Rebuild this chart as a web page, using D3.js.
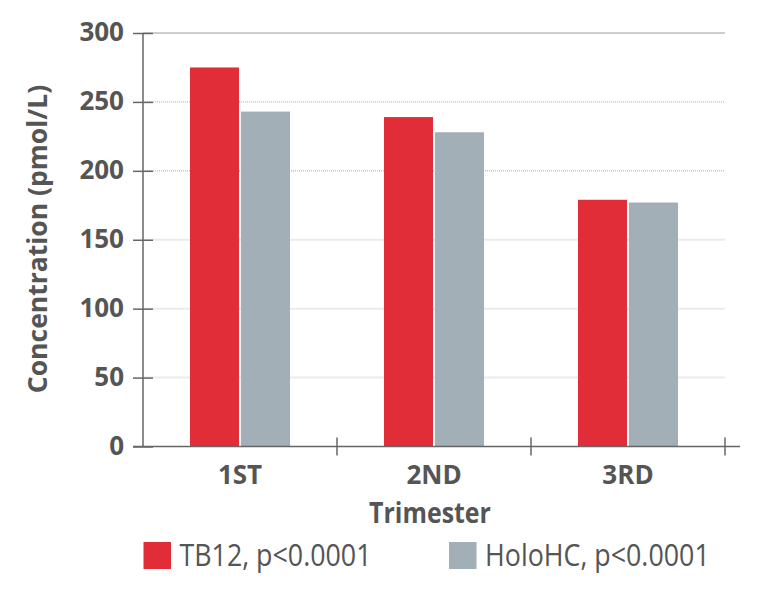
<!DOCTYPE html>
<html><head><meta charset="utf-8">
<script src="https://cdn.jsdelivr.net/npm/d3@7"></script>
<style>body{margin:0;background:#fff;} svg{display:block;font-family:"Open Sans",sans-serif;}</style>
</head><body>
<svg id="chart" width="768" height="592"></svg>
<script>
const categories = ["1ST", "2ND", "3RD"];
const seriesNames = ["TB12, p<0.0001", "HoloHC, p<0.0001"];
const tb12 = [275, 239, 179];
const holohc = [243, 228, 177];
const yTicks = [0, 50, 100, 150, 200, 250, 300];
const colors = ["#e12d38", "#a2afb7"];

const svg = d3.select("#chart");
const x0 = 143, x1 = 725, yTop = 33, yBot = 446.5;
const x = d3.scaleBand().domain(categories).range([x0, x1]).paddingInner(0).paddingOuter(0);
const y = d3.scaleLinear().domain([0, 300]).range([yBot, yTop]);
const inner = d3.scaleBand().domain([0,1]).range([0, 100]).paddingInner(0.04);

// gridlines
const grid = svg.append("g");
yTicks.filter(t => t > 0).forEach(t => {
  const g = grid.append("line").attr("x1", x0).attr("x2", 725).attr("y1", y(t)).attr("y2", y(t));
  if (t === 300) g.attr("stroke", "#bdbdbd").attr("stroke-width", 1.5);
  else if (t >= 200) g.attr("stroke", "#a8a8a8").attr("stroke-width", 1).attr("stroke-dasharray", "1,1");
  else g.attr("stroke", "#ebebeb").attr("stroke-width", 2);
});

// bars
const data = categories.map((c, i) => ({c, vals: [tb12[i], holohc[i]]}));
const gBars = svg.append("g");
data.forEach(d => {
  d.vals.forEach((v, j) => {
    gBars.append("rect")
      .attr("x", x(d.c) + (x.bandwidth() - 100) / 2 + inner(j))
      .attr("width", inner.bandwidth())
      .attr("y", y(v)).attr("height", yBot - y(v))
      .attr("fill", colors[j]);
  });
});

// y axis
const yAxis = d3.axisLeft(y).tickValues(yTicks).tickSizeInner(10).tickSizeOuter(0).tickPadding(8);
const ya = svg.append("g").attr("transform", `translate(${x0},0)`).call(yAxis);
ya.select(".domain").attr("stroke", "#666").attr("stroke-width", 1.5).attr("d", `M0,${yTop}V${yBot}`);
ya.selectAll(".tick line").attr("x1", -10).attr("x2", 10).attr("stroke", "#666").attr("stroke-width", 1.5);
ya.selectAll(".tick text").attr("fill", "#555").attr("font-size", 26).attr("font-weight", "bold")
  .attr("font-family", "Open Sans").attr("x", -19).attr("dy", "0.3em");

// x axis
const xAxis = d3.axisBottom(x).tickSize(0).tickPadding(0);
const xa = svg.append("g").attr("transform", `translate(0,${yBot})`).call(xAxis);
xa.select(".domain").attr("stroke", "#666").attr("stroke-width", 1.5).attr("d", `M${x0 - 10},0H740`);
xa.selectAll(".tick text").attr("fill", "#555").attr("font-size", 26).attr("font-weight", "bold")
  .attr("font-family", "Open Sans").attr("y", 37).attr("dy", 0);
// category separators
const sep = categories.map(c => x(c) + x.bandwidth());
xa.selectAll(".sep").data(sep).enter().append("line").attr("class", "sep")
  .attr("x1", d => d).attr("x2", d => d).attr("y1", -9).attr("y2", 9).attr("stroke", "#666").attr("stroke-width", 1.5);

// axis titles
svg.append("text").attr("transform", "translate(430,523) scale(0.86,1)").attr("text-anchor", "middle")
  .attr("fill", "#555").attr("font-size", 29).attr("font-weight", "bold").text("Trimester");
svg.append("text").attr("transform", "translate(47,239) rotate(-90)").attr("text-anchor", "middle")
  .attr("fill", "#555").attr("font-size", 26.5).attr("font-weight", "bold").text("Concentration (pmol/L)");

// legend
const legX = [143.5, 449];
seriesNames.forEach((n, i) => {
  const g = svg.append("g").attr("transform", `translate(${legX[i]},542)`);
  g.append("rect").attr("width", 27.5).attr("height", 27).attr("fill", colors[i]);
  g.append("text").attr("transform", "translate(36,24) scale(0.865,1)").attr("fill", "#555")
    .attr("font-size", 31).text(n);
});
</script>
</body></html>
